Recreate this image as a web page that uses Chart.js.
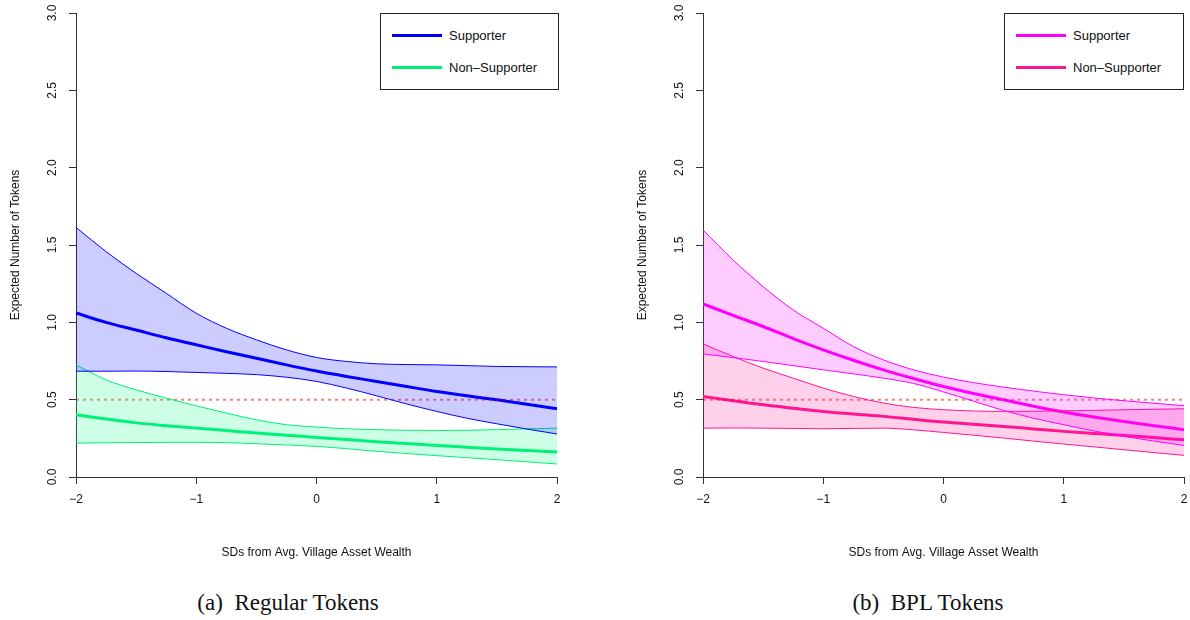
<!DOCTYPE html>
<html>
<head>
<meta charset="utf-8">
<script src="https://cdn.jsdelivr.net/npm/chart.js@4/dist/chart.umd.min.js"></script>
<style>
  html, body { margin: 0; padding: 0; background: #fff; }
  body { width: 1190px; height: 620px; position: relative; overflow: hidden; font-family: "Liberation Sans", Arial, sans-serif; }
  .panel { position: absolute; top: 0; width: 567px; height: 560px; }
  .legend { position: absolute; top: 13px; height: 77px; border: 1px solid #222; background: #fff; box-sizing: border-box; }
  .legend .item { position: absolute; left: 11px; height: 16px; font-size: 13px; color: #111; white-space: nowrap; }
  .legend .swatch { position: absolute; left: 0; top: 6px; width: 50px; height: 3px; }
  .legend .label { position: absolute; left: 57px; top: 0; line-height: 16px; }
  .caption { position: absolute; top: 589px; font-family: "Liberation Serif", "DejaVu Serif", serif; font-size: 23px; line-height: 28px; color: #111; transform: translateX(-50%); white-space: nowrap; }
</style>
</head>
<body>
<div class="panel" style="left:0px"><canvas id="cA" width="567" height="560"></canvas></div>
<div class="panel" style="left:627px"><canvas id="cB" width="567" height="560"></canvas></div>

<div class="legend" style="left:380px; width:179px;">
  <div class="item" style="top:14px"><div class="swatch" style="background:#0000FF"></div><div class="label">Supporter</div></div>
  <div class="item" style="top:46px"><div class="swatch" style="background:#00EE76"></div><div class="label">Non&#8211;Supporter</div></div>
</div>
<div class="legend" style="left:1004px; width:180px;">
  <div class="item" style="top:14px"><div class="swatch" style="background:#FF00FF"></div><div class="label">Supporter</div></div>
  <div class="item" style="top:46px"><div class="swatch" style="background:#FF1493"></div><div class="label">Non&#8211;Supporter</div></div>
</div>

<div class="caption" style="left:288px">(a)&nbsp; Regular Tokens</div>
<div class="caption" style="left:928px">(b)&nbsp; BPL Tokens</div>

<script>
// x grid: SDs from average village asset wealth
const xValues = [-2, -1.75, -1.5, -1.25, -1, -0.75, -0.5, -0.25, 0, 0.25, 0.5, 0.75, 1, 1.25, 1.5, 1.75, 2];
const xTicks = [-2, -1, 0, 1, 2];
const yTicks = [0, 0.5, 1, 1.5, 2, 2.5, 3];
const referenceLevel = 0.5;

// (a) Regular tokens
const regSupMid   = [1.06, 1.00, 0.95, 0.90, 0.855, 0.81, 0.768, 0.725, 0.685, 0.65, 0.618, 0.585, 0.553, 0.525, 0.499, 0.47, 0.441];
const regSupHigh  = [1.614, 1.457, 1.317, 1.188, 1.059, 0.962, 0.887, 0.822, 0.773, 0.747, 0.732, 0.727, 0.725, 0.72, 0.715, 0.713, 0.712];
const regSupLow   = [0.684, 0.684, 0.685, 0.682, 0.676, 0.67, 0.662, 0.645, 0.618, 0.575, 0.525, 0.472, 0.424, 0.38, 0.344, 0.31, 0.278];
const regNonMid   = [0.402, 0.375, 0.35, 0.332, 0.316, 0.30, 0.284, 0.27, 0.256, 0.242, 0.228, 0.216, 0.204, 0.192, 0.181, 0.171, 0.161];
const regNonHigh  = [0.725, 0.628, 0.564, 0.51, 0.46, 0.413, 0.37, 0.338, 0.323, 0.312, 0.306, 0.302, 0.301, 0.302, 0.306, 0.311, 0.316];
const regNonLow   = [0.219, 0.221, 0.223, 0.224, 0.224, 0.222, 0.215, 0.207, 0.198, 0.183, 0.166, 0.152, 0.138, 0.125, 0.112, 0.098, 0.084];

// (b) BPL tokens
const bplSupMid   = [1.119, 1.045, 0.973, 0.895, 0.822, 0.755, 0.693, 0.637, 0.585, 0.54, 0.499, 0.458, 0.42, 0.388, 0.359, 0.332, 0.306];
const bplSupHigh  = [1.597, 1.403, 1.231, 1.08, 0.962, 0.844, 0.757, 0.693, 0.646, 0.61, 0.581, 0.555, 0.532, 0.511, 0.493, 0.477, 0.461];
const bplSupLow   = [0.796, 0.772, 0.747, 0.72, 0.693, 0.667, 0.639, 0.605, 0.55, 0.49, 0.43, 0.38, 0.338, 0.298, 0.263, 0.232, 0.204];
const bplNonMid   = [0.521, 0.493, 0.467, 0.445, 0.424, 0.407, 0.392, 0.373, 0.355, 0.341, 0.327, 0.311, 0.295, 0.282, 0.269, 0.255, 0.241];
const bplNonHigh  = [0.861, 0.779, 0.704, 0.639, 0.575, 0.521, 0.478, 0.45, 0.435, 0.427, 0.424, 0.425, 0.428, 0.431, 0.435, 0.438, 0.441];
const bplNonLow   = [0.316, 0.317, 0.316, 0.314, 0.312, 0.314, 0.316, 0.305, 0.288, 0.27, 0.252, 0.232, 0.213, 0.195, 0.176, 0.158, 0.14];

const pts = arr => arr.map((y, i) => ({x: xValues[i], y}));
const fmtX = v => (v < 0 ? '\u2212' + Math.abs(v) : String(v));

function makeChart(id, s) {
  const band = (data, color, fill, fillColor) => ({
    data: pts(data), borderColor: color, borderWidth: 1, pointRadius: 0,
    cubicInterpolationMode: 'monotone', fill: fill, backgroundColor: fillColor
  });
  const mid = (data, color) => ({
    data: pts(data), borderColor: color, borderWidth: 3, pointRadius: 0,
    cubicInterpolationMode: 'monotone', fill: false
  });
  const ref = {
    data: [{x: xValues[0], y: referenceLevel}, {x: xValues[xValues.length - 1], y: referenceLevel}],
    borderColor: 'rgba(255,0,0,0.5)', borderWidth: 2, borderDash: [3, 4], pointRadius: 0, fill: false
  };
  new Chart(document.getElementById(id), {
    type: 'line',
    data: {
      datasets: [
        band(s.supHigh, s.supColor, '+1', s.supFill),
        band(s.supLow, s.supColor, false),
        band(s.nonHigh, s.nonColor, '+1', s.nonFill),
        band(s.nonLow, s.nonColor, false),
        ref,
        mid(s.supMid, s.supColor),
        mid(s.nonMid, s.nonColor)
      ]
    },
    options: {
      responsive: false,
      animation: false,
      layout: { padding: { left: 0, right: 10, top: 13, bottom: 0 } },
      plugins: { legend: { display: false }, tooltip: { enabled: false } },
      scales: {
        x: {
          type: 'linear', min: -2, max: 2,
          afterBuildTicks: sc => { sc.ticks = xTicks.map(v => ({value: v})); },
          afterFit: sc => { sc.height = 83; sc.paddingLeft = 0; sc.paddingRight = 0; },
          ticks: { callback: fmtX, color: '#111', font: { family: 'Liberation Sans', size: 12 }, padding: 8, maxRotation: 0 },
          grid: { drawOnChartArea: false, drawTicks: true, tickLength: 7, color: '#333', lineWidth: 1 },
          border: { display: true, color: '#333', width: 1 },
          title: { display: true, text: 'SDs from Avg. Village Asset Wealth', color: '#111',
                   font: { family: 'Liberation Sans', size: 12 }, padding: { top: 0, bottom: 0 } }
        },
        y: {
          type: 'linear', min: 0, max: 3,
          afterBuildTicks: sc => { sc.ticks = yTicks.map(v => ({value: v})); },
          afterFit: sc => { sc.width = 76; sc.paddingTop = 0; sc.paddingBottom = 0; },
          ticks: { callback: v => Number(v).toFixed(1), color: '#111', font: { family: 'Liberation Sans', size: 12 },
                   minRotation: 90, maxRotation: 90, crossAlign: 'center', padding: 8 },
          grid: { drawOnChartArea: false, drawTicks: true, tickLength: 7, color: '#333', lineWidth: 1 },
          border: { display: true, color: '#333', width: 1 },
          title: { display: true, text: 'Expected Number of Tokens', color: '#111',
                   font: { family: 'Liberation Sans', size: 12 }, padding: { top: 8, bottom: 0 } }
        }
      }
    }
  });
}

makeChart('cA', {
  supMid: regSupMid, supHigh: regSupHigh, supLow: regSupLow,
  nonMid: regNonMid, nonHigh: regNonHigh, nonLow: regNonLow,
  supColor: '#0000FF', supFill: 'rgba(0,0,255,0.2)',
  nonColor: '#00EE76', nonFill: 'rgba(0,255,127,0.2)'
});
makeChart('cB', {
  supMid: bplSupMid, supHigh: bplSupHigh, supLow: bplSupLow,
  nonMid: bplNonMid, nonHigh: bplNonHigh, nonLow: bplNonLow,
  supColor: '#FF00FF', supFill: 'rgba(255,0,255,0.2)',
  nonColor: '#FF1493', nonFill: 'rgba(255,20,147,0.2)'
});
</script>
</body>
</html>
